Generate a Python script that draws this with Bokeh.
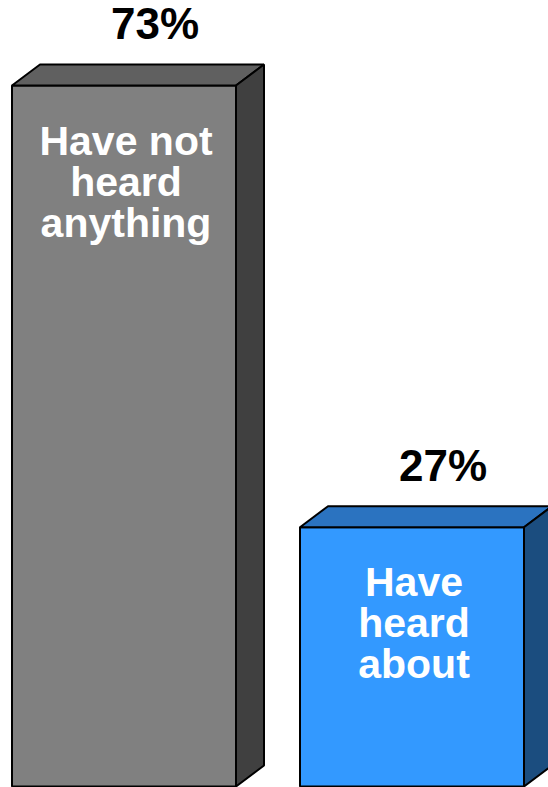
from bokeh.plotting import figure
from bokeh.models import Range1d, ColumnDataSource
from bokeh.core.properties import value
from bokeh.embed import file_html
from bokeh.resources import INLINE

# ---- data ----
categories = ["Have not heard anything", "Have heard about"]
values = [73, 27]
pct_labels = ["73%", "27%"]
inner_lines = [["Have not", "heard", "anything"], ["Have", "heard", "about"]]
front_colors = ["#808080", "#3399FF"]
top_colors = ["#606060", "#2B73C0"]
side_colors = ["#404040", "#1B4D7F"]

# ---- layout ----
W, H = 548, 787
px_per_x = 288.0
px_per_y = 701.0 / 73.0
x0 = -123.5 / px_per_x
y0 = -1.0 / px_per_y
bar_w = 224.0 / px_per_x
dx = 28.0 / px_per_x
dy = 21.0 / px_per_y
FONT = "Liberation Sans"

p = figure(width=W, height=H, output_backend="svg", toolbar_location=None,
           x_range=Range1d(x0, x0 + W / px_per_x),
           y_range=Range1d(y0, y0 + H / px_per_y),
           min_border=0, outline_line_color=None)
p.axis.visible = False
p.grid.visible = False
p.background_fill_color = "white"
p.border_fill_color = "white"

xs = list(range(len(values)))
left = [x - bar_w / 2 for x in xs]
right = [x + bar_w / 2 for x in xs]

# front faces
p.quad(left=left, right=right, bottom=[0] * len(values), top=values,
       fill_color=front_colors, line_color="black", line_width=2)

# top faces
top_xs = [[l, l + dx, r + dx, r] for l, r in zip(left, right)]
top_ys = [[v, v + dy, v + dy, v] for v in values]
p.patches(top_xs, top_ys, fill_color=top_colors, line_color="black", line_width=2)

# side faces
side_xs = [[r, r + dx, r + dx, r] for r in right]
side_ys = [[v, v + dy, dy, 0] for v in values]
p.patches(side_xs, side_ys, fill_color=side_colors, line_color="black", line_width=2)

# percentage labels
p.text(x=xs, y=values, text=pct_labels, x_offset=31, y_offset=-62,
       text_font=value(FONT), text_font_style="bold",
       text_font_size="44px", text_color="black",
       text_align="center", text_baseline="alphabetic")

# inner labels
tx, ty, tt, toff = [], [], [], []
for i, lines in enumerate(inner_lines):
    for j, line in enumerate(lines):
        tx.append(xs[i])
        ty.append(values[i])
        tt.append(line)
        toff.append(55 + 41 * j)
src = ColumnDataSource(dict(x=tx, y=ty, text=tt, yoff=toff))
p.text(x="x", y="y", text="text", x_offset=2, y_offset="yoff", source=src,
       text_font=value(FONT), text_font_style="bold",
       text_font_size="41px", text_color="white",
       text_align="center", text_baseline="alphabetic")

open("out.html", "w").write(file_html(p, INLINE))
